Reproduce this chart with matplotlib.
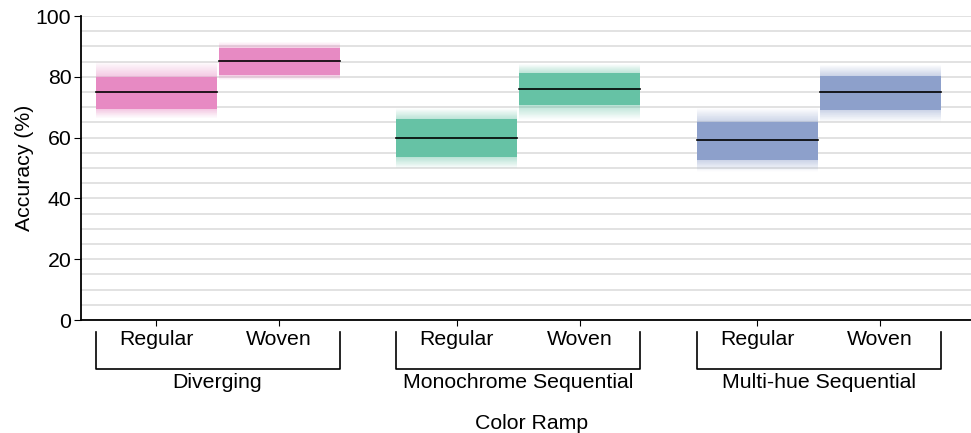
import numpy as np
import matplotlib.pyplot as plt
from matplotlib.transforms import blended_transform_factory

plt.rcParams['font.family'] = ['Liberation Sans', 'DejaVu Sans']

# datos por rampa de color: (Regular, Woven)
groups = ["Diverging", "Monochrome Sequential", "Multi-hue Sequential"]
conditions = ["Regular", "Woven"]
colors = ["#e78ac3", "#66c2a5", "#8da0cb"]

median = [[75.0, 85.2], [60.0, 76.0], [59.2, 74.9]]
core_lo = [[69.3, 80.6], [53.5, 70.7], [52.6, 69.1]]
core_hi = [[80.0, 89.4], [66.0, 81.1], [65.2, 80.4]]
outer_lo = [[66.4, 78.9], [49.9, 65.8], [48.8, 65.2]]
outer_hi = [[84.9, 91.5], [69.6, 84.2], [69.6, 83.9]]

group_step = 300.5
bar_step = 123
bar_w = 121
fs = 15.3

fig = plt.figure(figsize=(9.71, 4.33), dpi=100)
ax = fig.add_axes([81 / 971, 113 / 433, 890 / 971, 304 / 433])

n_fade = 30
xticks = []
for g in range(len(groups)):
    for c in range(len(conditions)):
        xc = 75 + g * group_step + c * bar_step
        xticks.append(xc)
        x0, x1 = xc - bar_w / 2, xc + bar_w / 2
        col = colors[g]
        ax.fill_between([x0, x1], core_lo[g][c], core_hi[g][c], color=col, lw=0, zorder=2)
        # degradado hacia los extremos
        up = np.linspace(core_hi[g][c], outer_hi[g][c], n_fade + 1)
        dn = np.linspace(core_lo[g][c], outer_lo[g][c], n_fade + 1)
        for k in range(n_fade):
            a = 0.45 * (1 - k / n_fade)
            ax.fill_between([x0, x1], up[k], up[k + 1], color=col, alpha=a, lw=0, zorder=2)
            ax.fill_between([x0, x1], dn[k + 1], dn[k], color=col, alpha=a, lw=0, zorder=2)
        ax.plot([x0, x1], [median[g][c]] * 2, color="black", lw=1.2, zorder=3)

ax.set_xlim(0, 890)
ax.set_ylim(0, 100)
ax.set_yticks(range(0, 101, 20))
ax.set_yticks(range(0, 101, 5), minor=True)
ax.grid(True, which="both", axis="y", color="#dddddd", lw=1.2, zorder=0)
ax.tick_params(axis="y", which="minor", length=0)
ax.tick_params(axis="y", labelsize=fs, length=5, pad=2)
ax.set_xticks(xticks)
ax.set_xticklabels([])
ax.tick_params(axis="x", length=4, direction="out")
ax.set_axisbelow(True)
for s in ["top", "right"]:
    ax.spines[s].set_visible(False)
ax.spines["left"].set_linewidth(1.3)
ax.spines["bottom"].set_linewidth(1.3)
ax.set_ylabel("Accuracy (%)", fontsize=fs, labelpad=1)

trans = blended_transform_factory(ax.transData, ax.transAxes)
for i, xc in enumerate(xticks):
    ax.text(xc, -0.063, conditions[i % 2], transform=trans, ha="center", va="center", fontsize=fs)

for g, name in enumerate(groups):
    left = 75 + g * group_step - bar_w / 2
    right = 75 + g * group_step + bar_step + bar_w / 2
    ax.plot([left, left, right, right], [-0.039, -0.161, -0.161, -0.039], transform=trans,
            color="black", lw=1.2, clip_on=False)
    ax.text((left + right) / 2, -0.205, name, transform=trans, ha="center", va="center", fontsize=fs)

ax.text(0.506, -0.342, "Color Ramp", transform=ax.transAxes, ha="center", va="center", fontsize=fs)

fig.savefig("out.png", dpi=100)
